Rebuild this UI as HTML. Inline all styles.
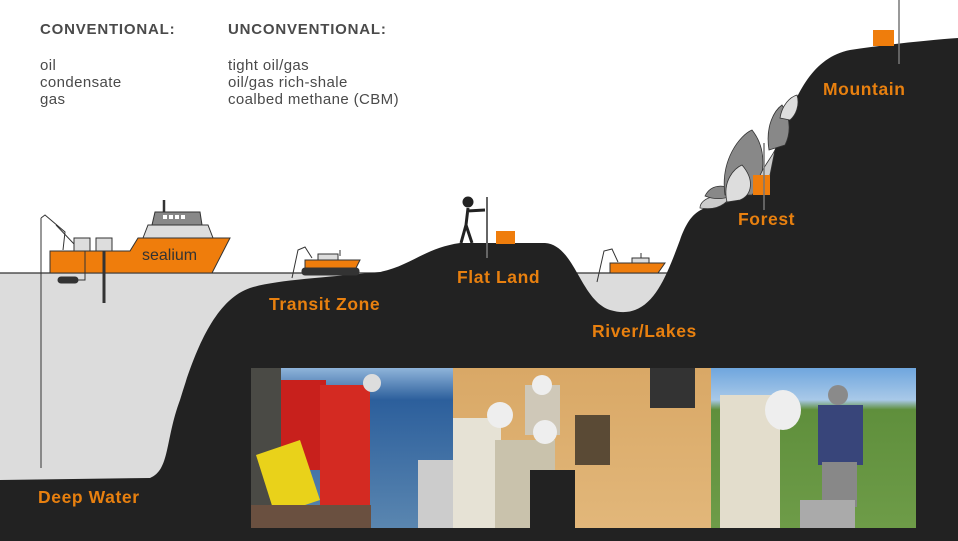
<!DOCTYPE html>
<html><head><meta charset="utf-8"><style>
html,body{margin:0;padding:0;background:#fff;width:958px;height:541px;overflow:hidden}
svg{display:block;font-family:"Liberation Sans",sans-serif}
</style></head><body>
<svg width="958" height="541" viewBox="0 0 958 541">
<defs>
<linearGradient id="sea" x1="0" y1="0" x2="0" y2="1"><stop offset="0" stop-color="#8fb4da"/><stop offset="0.2" stop-color="#2c5f9c"/><stop offset="1" stop-color="#5a86b0"/></linearGradient>
<linearGradient id="sand" x1="0" y1="0" x2="0" y2="1"><stop offset="0" stop-color="#d9a866"/><stop offset="1" stop-color="#e2b77a"/></linearGradient>
<linearGradient id="field" x1="0" y1="0" x2="0" y2="1"><stop offset="0" stop-color="#6fa6de"/><stop offset="0.2" stop-color="#a9c9e8"/><stop offset="0.26" stop-color="#5f8f3c"/><stop offset="1" stop-color="#6e9c48"/></linearGradient>
</defs>
<rect x="0" y="273" width="420" height="210" fill="#dcdcdc"/>
<rect x="570" y="273" width="120" height="60" fill="#dcdcdc"/>
<line x1="0" y1="273" x2="400" y2="273" stroke="#333" stroke-width="1.2"/>
<line x1="575" y1="273" x2="680" y2="273" stroke="#333" stroke-width="1.2"/>
<path d="M0,480 L150,478 C170,470 165,440 180,400 C195,350 215,300 250,288 C275,280 320,278 380,272 C410,266 425,248 460,243 L545,243 C575,245 580,300 610,310 C650,322 665,280 680,240 C690,212 700,208 720,204 C745,198 755,190 770,160 C790,120 800,60 850,50 C890,44 930,40 958,38 L958,541 L0,541 Z" fill="#222222"/>
<g fill="#4a4a4a" font-size="15" letter-spacing="0.4">
<text x="40" y="34" font-weight="bold" letter-spacing="0.8">CONVENTIONAL:</text>
<text x="228" y="34" font-weight="bold" letter-spacing="0.8">UNCONVENTIONAL:</text>
<text x="40" y="70">oil</text><text x="40" y="87">condensate</text><text x="40" y="104">gas</text>
<text x="228" y="70">tight oil/gas</text><text x="228" y="87">oil/gas rich-shale</text><text x="228" y="104">coalbed methane (CBM)</text>
</g>
<g fill="#e8800f" font-size="17.5" font-weight="bold" letter-spacing="0.6">
<text x="38" y="503">Deep Water</text>
<text x="269" y="310">Transit Zone</text>
<text x="457" y="283">Flat Land</text>
<text x="592" y="337">River/Lakes</text>
<text x="738" y="225">Forest</text>
<text x="823" y="95">Mountain</text>
</g>
<g stroke="#333" stroke-width="1">
<line x1="41" y1="218" x2="41" y2="468"/>
<path d="M41,218 L45,215 L65,232 L63,250" fill="none"/>
<path d="M56,225 L75,245 L77,250" fill="none"/>
<rect x="74" y="238" width="16" height="13" fill="#ddd"/>
<rect x="96" y="238" width="16" height="13" fill="#ddd"/>
<path d="M50,251 L130,251 L138,238 L230,238 L212,273 L50,273 Z" fill="#ef7d0c"/>
<path d="M143,238 L148,225 L208,225 L213,238 Z" fill="#ddd"/>
<path d="M152,225 L155,212 L200,212 L202,225 Z" fill="#888"/>
<line x1="164" y1="200" x2="164" y2="212" stroke-width="2.5"/>
<line x1="104" y1="251" x2="104" y2="303" stroke-width="3"/>
<path d="M85,251 L85,280 L75,280" fill="none"/>
<rect x="58" y="277" width="20" height="6" rx="3" fill="#333"/>
</g>
<g fill="#fff"><rect x="163" y="215" width="4" height="4"/><rect x="169" y="215" width="4" height="4"/><rect x="175" y="215" width="4" height="4"/><rect x="181" y="215" width="4" height="4"/></g>
<text x="142" y="260" font-size="16" fill="#333">sealium</text>
<g stroke="#333" stroke-width="1">
<path d="M292,278 L298,250 L305,247 L312,258" fill="none"/>
<rect x="302" y="268" width="57" height="7" rx="3" fill="#333"/>
<path d="M305,260 L360,260 L356,268 L305,268 Z" fill="#ef7d0c"/>
<rect x="318" y="254" width="20" height="6" fill="#ddd"/>
<line x1="340" y1="250" x2="340" y2="256"/>
</g>
<g stroke="#222" stroke-width="3" fill="none">
<circle cx="468" cy="202" r="4" fill="#222"/>
<path d="M468,208 L466,225 L461,243 M466,225 L472,243 M467,211 L485,210"/>
</g>
<line x1="487" y1="197" x2="487" y2="258" stroke="#666" stroke-width="2"/>
<rect x="496" y="231" width="19" height="13" fill="#ef7d0c"/>
<g stroke="#333" stroke-width="1">
<path d="M597,282 L604,251 L612,249 L618,262" fill="none"/>
<path d="M610,263 L665,263 L658,273 L610,273 Z" fill="#ef7d0c"/>
<rect x="632" y="258" width="17" height="5" fill="#ddd"/>
<line x1="641" y1="253" x2="641" y2="258"/>
</g>
<g stroke="#333" stroke-width="0.8">
<path d="M700,208 C700,198 718,193 730,198 C722,208 712,210 700,208Z" fill="#ccc"/>
<path d="M705,196 C712,182 728,185 738,192 C728,200 715,200 705,196Z" fill="#888"/>
<path d="M725,195 C720,160 740,135 752,130 C768,150 765,180 752,195 Z" fill="#888"/>
<path d="M727,202 C722,180 735,168 742,165 C755,180 752,195 740,200 Z" fill="#ddd"/>
<path d="M757,185 C760,170 770,160 775,150 L770,175 Z" fill="#ccc"/>
<path d="M769,150 C765,125 775,110 782,105 C792,120 790,135 785,145 Z" fill="#888"/>
<path d="M780,118 C782,105 790,97 797,95 C800,105 796,115 790,120 Z" fill="#ddd"/>
</g>
<rect x="753" y="175" width="17" height="20" fill="#ef7d0c"/>
<line x1="764" y1="143" x2="764" y2="210" stroke="#777" stroke-width="1.5"/>
<rect x="873" y="30" width="21" height="16" fill="#ef7d0c"/>
<line x1="899" y1="0" x2="899" y2="64" stroke="#777" stroke-width="1.5"/>
<rect x="251" y="368" width="202" height="160" fill="url(#sea)"/>
<rect x="251" y="368" width="30" height="160" fill="#4a4a45"/>
<rect x="281" y="380" width="45" height="90" fill="#c8201c"/>
<rect x="320" y="385" width="50" height="120" fill="#d42a22"/>
<circle cx="372" cy="383" r="9" fill="#ddd"/>
<path d="M256,455 L300,440 L320,500 L275,515 Z" fill="#e9d21a"/>
<rect x="251" y="505" width="120" height="23" fill="#6a5040"/>
<rect x="418" y="460" width="35" height="68" fill="#ccc"/>
<rect x="453" y="368" width="258" height="160" fill="url(#sand)"/>
<rect x="453" y="418" width="48" height="110" fill="#e6e2d5"/>
<rect x="495" y="440" width="60" height="88" fill="#c9c2ac"/>
<rect x="530" y="470" width="45" height="58" fill="#222"/>
<rect x="525" y="385" width="35" height="50" fill="#cfc8b8"/>
<circle cx="500" cy="415" r="13" fill="#eee"/>
<circle cx="545" cy="432" r="12" fill="#eee"/>
<circle cx="542" cy="385" r="10" fill="#eee"/>
<rect x="575" y="415" width="35" height="50" fill="#5a4a35"/>
<rect x="650" y="368" width="45" height="40" fill="#333"/>
<rect x="711" y="368" width="205" height="160" fill="url(#field)"/>
<rect x="720" y="395" width="60" height="133" fill="#e3ddcc"/>
<ellipse cx="783" cy="410" rx="18" ry="20" fill="#eee"/>
<rect x="818" y="405" width="45" height="60" fill="#38457a"/>
<rect x="822" y="462" width="35" height="45" fill="#888"/>
<circle cx="838" cy="395" r="10" fill="#8a8a8a"/>
<rect x="800" y="500" width="55" height="28" fill="#aaa"/>
</svg>
</body></html>
